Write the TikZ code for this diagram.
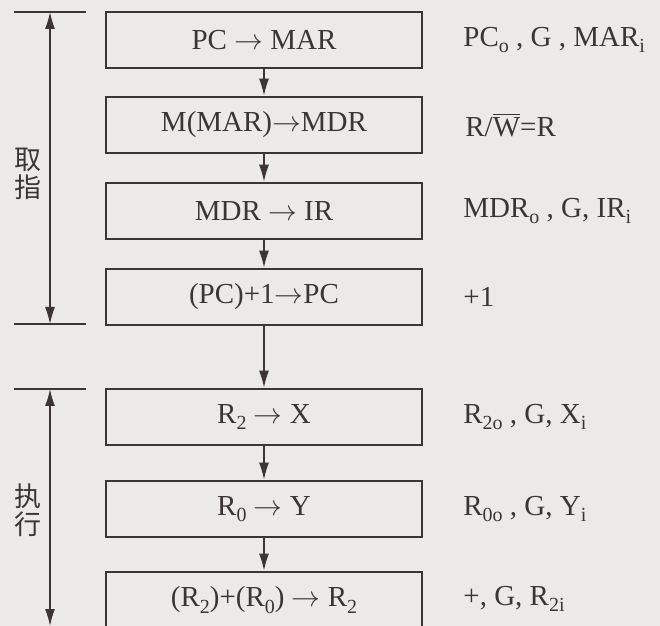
\documentclass[tikz,border=0pt]{standalone}
\usepackage{fontspec}
\setmainfont{Liberation Serif}
\newfontfamily\cjk{Noto Sans CJK SC}
\usepackage{xcolor}
\usetikzlibrary{arrows.meta,positioning}
\definecolor{ink}{HTML}{3B3535}
\definecolor{paper}{HTML}{ECEAE6}
\newcommand{\ra}{$\rightarrow$}
\newcommand{\sbs}[1]{\raisebox{-0.5ex}{\fontsize{10}{10}\selectfont #1}}
\tikzset{
  ar/.style={-{Latex[length=8.5pt,width=5pt]},line width=0.65pt,ink},
  dbl/.style={{Latex[length=8.5pt,width=5pt]}-{Latex[length=8.5pt,width=5pt]},line width=0.65pt,ink},
  stepbox/.style={draw=ink,line width=1.4pt,minimum width=158pt,minimum height=28pt,
    inner sep=0pt,text=ink,font=\fontsize{14.5}{16}\selectfont},
  sig/.style={anchor=west,inner sep=0pt,text=ink,font=\fontsize{14.5}{16}\selectfont},
  phase/.style={align=center,text=ink,font=\cjk\fontsize{13.5}{14}\selectfont}
}
\begin{document}
\begin{tikzpicture}[x=0.5pt,y=-0.5pt]
\fill[paper] (0,0) rectangle (660,626);
\clip (0,0) rectangle (660,626);
% steps
\node[stepbox] (b1) at (264,40) {PC \ra\ MAR};
\node[stepbox] (b2) at (264,125) {M(MAR)\ra MDR};
\node[stepbox] (b3) at (264,211) {MDR \ra\ IR};
\node[stepbox] (b4) at (264,297) {(PC)+1\ra PC};
\node[stepbox] (b5) at (264,417) {R\sbs{2} \ra\ X};
\node[stepbox] (b6) at (264,509) {R\sbs{0} \ra\ Y};
\node[stepbox] (b7) at (264,600) {(R\sbs{2})+(R\sbs{0}) \ra\ R\sbs{2}};
\foreach \a/\b in {b1/b2,b2/b3,b3/b4,b4/b5,b5/b6,b6/b7}
  \draw[ar] (\a.south) -- (\b.north);
% control signals
\node[sig] (s1) at (463,40) {PC\sbs{o} , G , MAR\sbs{i}};
\node[sig] (s2) at (465,125) {R/$\overline{\mbox{W}}$=R};
\node[sig] (s3) at (463,211) {MDR\sbs{o} , G, IR\sbs{i}};
\node[sig] (s4) at (463,297) {+1};
\node[sig] (s5) at (463,417) {R\sbs{2o} , G, X\sbs{i}};
\node[sig] (s6) at (463,509) {R\sbs{0o} , G, Y\sbs{i}};
\node[sig] (s7) at (463,599) {+, G, R\sbs{2i}};
% phases
\draw[ink,line width=0.7pt] (14,12) -- (86,12);
\draw[ink,line width=0.7pt] (14,324) -- (86,324);
\draw[ink,line width=0.7pt] (14,389) -- (86,389);
\coordinate (f1) at (50,12);
\coordinate (f2) at (50,324);
\coordinate (e1) at (50,389);
\coordinate (e2) at (50,626);
\draw[dbl] (f1) -- (f2);
\draw[dbl] (e1) -- (e2);
\node[phase,fill=paper,inner sep=1pt] (p1) at (28,174) {取\\指};
\node[phase,fill=paper,inner sep=1pt] (p2) at (28,510) {执\\行};
\end{tikzpicture}
\end{document}
